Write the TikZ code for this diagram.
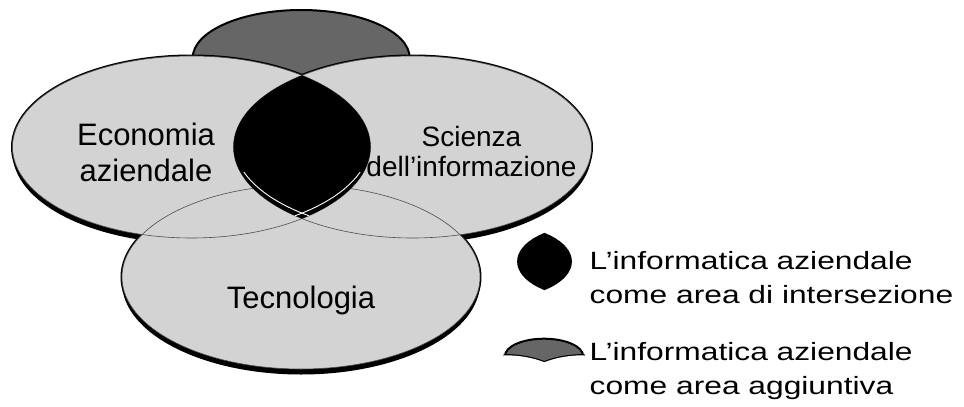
\documentclass[tikz,border=0pt]{standalone}
\usepackage{fontspec}
\setmainfont{Liberation Sans}
\newfontfamily\legfont{Liberation Sans}[FakeStretch=1.27]
\definecolor{lgray}{HTML}{D3D3D3}
\definecolor{dgray}{HTML}{666666}
\begin{document}
\begin{tikzpicture}[x=1pt,y=-1pt,
  lbl/.style={inner sep=0pt, align=center, anchor=base},
  leg/.style={inner sep=0pt, align=left, anchor=base west, font=\legfont\fontsize{25}{34}\selectfont},
  outer/.style={draw=black, line width=3pt},
  inner/.style={draw=black!70, line width=0.6pt},
  shadow/.style={fill=black}
]
\useasboundingbox (0,0) rectangle (964,407);
% additional (dark) area
\filldraw[fill=dgray, draw=black, line width=2pt] (301.2,58) ellipse [x radius=108.5, y radius=48];
% shadows
\fill[shadow] (191.5,152.5) ellipse [x radius=179, y radius=91];
\fill[shadow] (412.5,152.5) ellipse [x radius=179, y radius=91];
\fill[shadow] (301,282.5) ellipse [x radius=179, y radius=92];
% outer strokes
\draw[outer] (191.5,147) ellipse [x radius=179, y radius=91];
\draw[outer] (412.5,147) ellipse [x radius=179, y radius=91];
\draw[outer] (301,277) ellipse [x radius=179, y radius=92];
% fills
\fill[lgray] (191.5,147) ellipse [x radius=179, y radius=91];
\fill[lgray] (412.5,147) ellipse [x radius=179, y radius=91];
\fill[lgray] (301,277) ellipse [x radius=179, y radius=92];
% thin outlines
\draw[inner] (191.5,147) ellipse [x radius=179, y radius=91];
\draw[inner] (412.5,147) ellipse [x radius=179, y radius=91];
\draw[inner] (301,277) ellipse [x radius=179, y radius=92];
% intersection lens
\begin{scope}
  \clip (191.5,147) ellipse [x radius=179, y radius=91];
  \clip (412.5,147) ellipse [x radius=179, y radius=91];
  \fill[black] (0,0) rectangle (964,407);
  \clip (0,172) rectangle (964,407);
  \draw[white, line width=0.9pt] (191.5,141.5) ellipse [x radius=179, y radius=91];
  \draw[white, line width=0.9pt] (412.5,141.5) ellipse [x radius=179, y radius=91];
\end{scope}
% labels (anchor=base is the baseline of the last line)
\node[lbl, font=\fontsize{31}{36}\selectfont] (eco) at (146,181) {Economia\\aziendale};
\node[lbl, font=\fontsize{28}{30}\selectfont] (sci) at (471.5,176) {Scienza\\dell’informazione};
\node[lbl, font=\fontsize{31}{36}\selectfont] (tec) at (301,308.5) {Tecnologia};
% legend icon 1
\begin{scope}[shift={(423.7,202.7)}, scale=0.4]
  \clip (191.5,147) ellipse [x radius=179, y radius=91];
  \fill[black] (412.5,147) ellipse [x radius=179, y radius=91];
\end{scope}
% legend icon 2
\begin{scope}[shift={(435.6,335.1)}, scale=0.36]
  \clip (189,0) rectangle (414,79);
  \filldraw[fill=dgray, draw=black, line width=2pt] (301.2,58) ellipse [x radius=108.5, y radius=48];
  \draw[black, line width=2.4pt] (191.5,147) ellipse [x radius=179, y radius=91];
  \draw[black, line width=2.4pt] (412.5,147) ellipse [x radius=179, y radius=91];
  \fill[white] (191.5,147) ellipse [x radius=179, y radius=91];
  \fill[white] (412.5,147) ellipse [x radius=179, y radius=91];
\end{scope}
% legend texts
\node[leg] (leg1) at (589.5,303.3) {L’informatica aziendale\\come area di intersezione};
\node[leg] (leg2) at (589.5,394) {L’informatica aziendale\\come area aggiuntiva};
\end{tikzpicture}
\end{document}
